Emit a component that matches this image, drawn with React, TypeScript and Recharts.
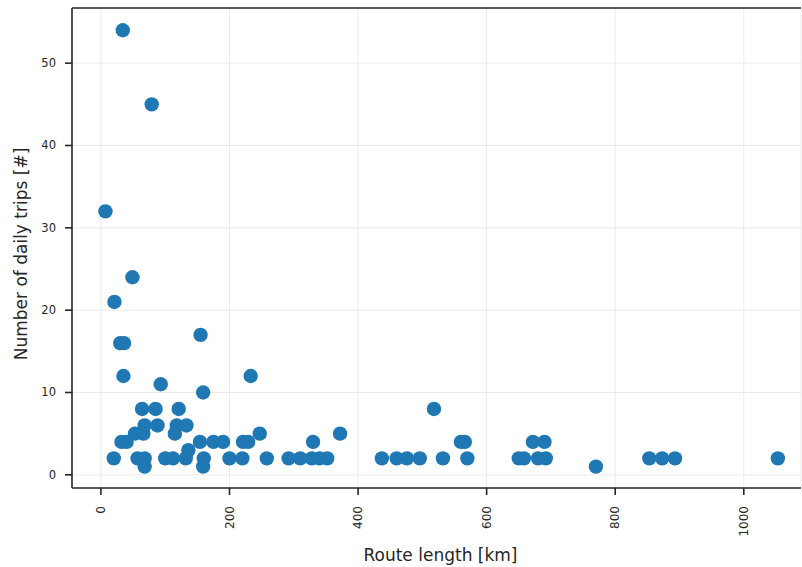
import {
  ScatterChart,
  Scatter,
  XAxis,
  YAxis,
  CartesianGrid,
  ReferenceLine,
} from "recharts";

// route lengths [km] and daily trips, grouped by trip count
const routeLengthKm = [
  34, 79, 7, 49, 21, 30, 36, 155, 35, 233, 93, 159,
  64, 85, 121, 518,
  68, 88, 118, 133,
  53, 66, 115, 247, 372,
  32, 40, 154, 175, 190, 221, 229, 330, 560, 566, 672, 690,
  136,
  20, 57, 68, 100, 112, 132, 160, 200, 220, 258, 292, 310, 328, 340, 352,
  437, 460, 476, 496, 532, 570, 650, 658, 680, 692, 853, 873, 893, 1053,
  68, 159, 770,
];

const dailyTrips = [
  54, 45, 32, 24, 21, 16, 16, 17, 12, 12, 11, 10,
  8, 8, 8, 8,
  6, 6, 6, 6,
  5, 5, 5, 5, 5,
  4, 4, 4, 4, 4, 4, 4, 4, 4, 4, 4, 4,
  3,
  2, 2, 2, 2, 2, 2, 2, 2, 2, 2, 2, 2, 2, 2, 2,
  2, 2, 2, 2, 2, 2, 2, 2, 2, 2, 2, 2, 2, 2,
  1, 1, 1,
];

const xTicks = [0, 200, 400, 600, 800, 1000];
const yTicks = [0, 10, 20, 30, 40, 50];

const data = routeLengthKm.map((km, i) => ({ km, trips: dailyTrips[i] }));

const FONT = "'DejaVu Sans', sans-serif";
const INK = "#262626";

type TickProps = { x?: number; y?: number; payload?: { value: number } };

function XTick({ x = 0, y = 0, payload }: TickProps) {
  const top = y + 9;
  return (
    <text
      transform={`translate(${x}, ${top}) rotate(-90)`}
      textAnchor="end"
      dominantBaseline="central"
      fontSize={12}
      fontFamily={FONT}
      fill={INK}
    >
      {payload?.value}
    </text>
  );
}

function YTick({ x = 0, y = 0, payload }: TickProps) {
  return (
    <text
      x={x}
      y={y}
      textAnchor="end"
      dominantBaseline="central"
      fontSize={11.5}
      fontFamily={FONT}
      fill={INK}
    >
      {payload?.value}
    </text>
  );
}

type VB = { viewBox?: { x: number; y: number; width: number; height: number } };

function XLabel({ viewBox }: VB) {
  if (!viewBox) return null;
  return (
    <text
      x={viewBox.x + viewBox.width / 2 + 4}
      y={viewBox.y + 73}
      textAnchor="middle"
      fontSize={17}
      fontFamily={FONT}
      fill={INK}
    >
      Route length [km]
    </text>
  );
}

function YLabel({ viewBox }: VB) {
  if (!viewBox) return null;
  const cx = 27;
  const cy = viewBox.y + viewBox.height / 2 + 6;
  return (
    <text
      transform={`translate(${cx}, ${cy}) rotate(-90)`}
      textAnchor="middle"
      fontSize={17}
      fontFamily={FONT}
      fill={INK}
    >
      Number of daily trips [#]
    </text>
  );
}

function Dot({ cx, cy }: { cx?: number; cy?: number }) {
  return <circle cx={cx} cy={cy} r={7.2} fill="#1f77b4" />;
}

export default function App() {
  return (
    <div style={{ position: "absolute", left: 0, top: 0, background: "#fff" }}>
      <ScatterChart
        width={802}
        height={567}
        margin={{ top: 8, right: 1, bottom: 0, left: 0 }}
      >
        <CartesianGrid stroke="#ebebeb" strokeWidth={1} />
        <XAxis
          type="number"
          dataKey="km"
          domain={[-45, 1089]}
          ticks={xTicks}
          height={79}
          tick={<XTick />}
          tickSize={7}
          axisLine={{ stroke: INK, strokeWidth: 1.6 }}
          tickLine={{ stroke: INK, strokeWidth: 1.6 }}
          label={{ content: <XLabel /> }}
        />
        <YAxis
          type="number"
          dataKey="trips"
          domain={[-1.6, 56.7]}
          ticks={yTicks}
          width={72}
          tickSize={7}
          tickMargin={9}
          tick={<YTick />}
          axisLine={{ stroke: INK, strokeWidth: 1.6 }}
          tickLine={{ stroke: INK, strokeWidth: 1.6 }}
          label={{ content: <YLabel /> }}
        />
        <ReferenceLine y={56.7} stroke={INK} strokeWidth={1.6} />
        <Scatter data={data} shape={<Dot />} isAnimationActive={false} />
      </ScatterChart>
    </div>
  );
}
